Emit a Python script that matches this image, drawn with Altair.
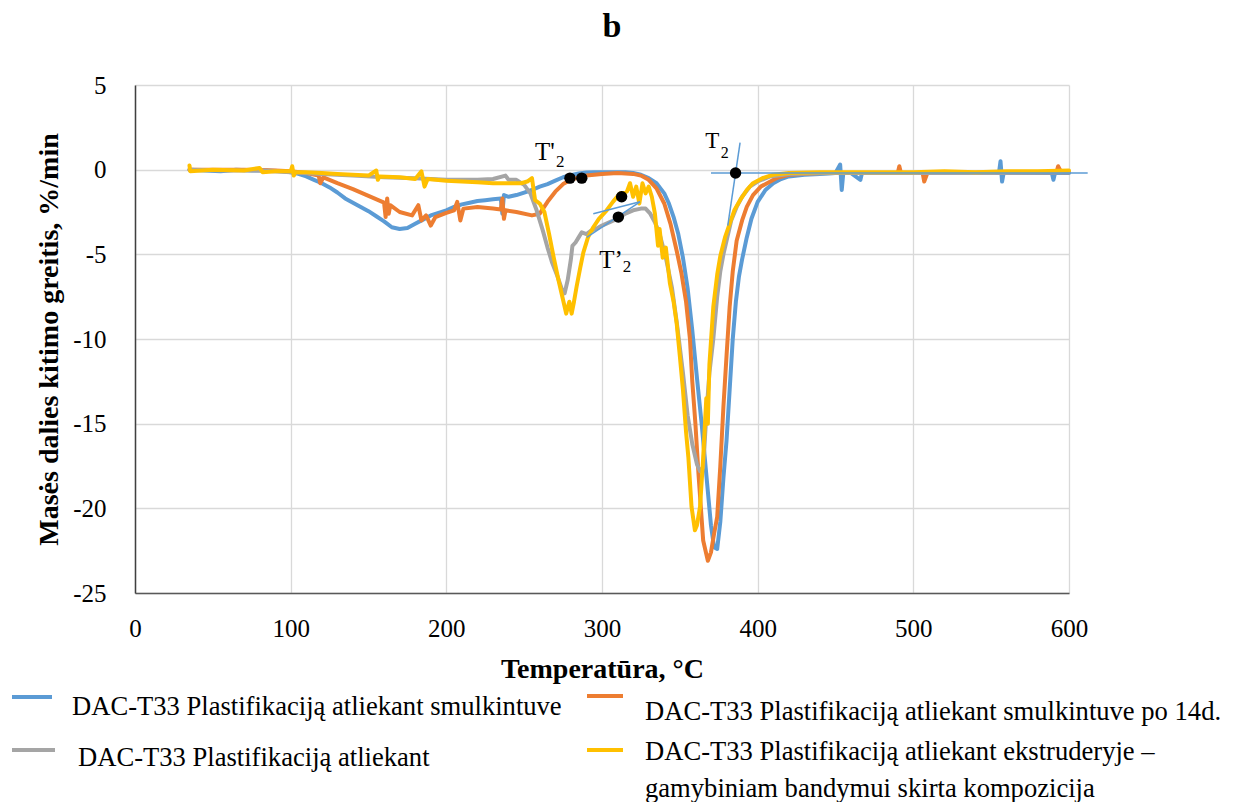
import altair as alt
import pandas as pd

# ---------------- data ----------------
SERIES = [
    "DAC-T33 Plastifikaciją atliekant smulkintuve",
    "DAC-T33 Plastifikaciją atliekant smulkintuve po 14d.",
    "DAC-T33 Plastifikaciją atliekant",
    "DAC-T33 Plastifikaciją atliekant ekstruderyje – gamybiniam bandymui skirta kompozicija",
]
COLORS = ["#5B9BD5", "#ED7D31", "#A5A5A5", "#FFC000"]

BLUE_T = [35, 45, 55, 65, 75, 85, 95, 100, 105, 110, 115, 120, 125, 130, 135, 140, 145, 150, 155, 160,
          165, 170, 175, 180, 185, 190, 195, 200, 205, 210, 215, 220, 225, 230, 235, 236, 237, 240, 245,
          250, 255, 260, 265, 270, 275, 280, 285, 290, 295, 300, 305, 310, 315, 320, 325, 330, 335, 340,
          343, 346, 349, 352, 355, 358, 361, 364, 367, 370, 372, 374, 376, 378, 380, 382, 384, 386, 388,
          390, 393, 396, 400, 405, 410, 415, 420, 430, 440, 450, 453, 454, 455, 460, 466, 467, 480, 500,
          520, 540, 555, 556, 557, 558, 570, 589, 590, 591, 600]
BLUE_V = [0.0, -0.05, -0.1, 0.0, -0.05, -0.05, -0.1, -0.15, -0.25, -0.4, -0.6, -0.8, -1.05, -1.35, -1.7,
          -1.95, -2.2, -2.45, -2.75, -3.05, -3.4, -3.5, -3.45, -3.2, -2.95, -2.7, -2.55, -2.4, -2.2, -2.05,
          -1.95, -1.85, -1.8, -1.75, -1.7, -2.6, -1.5, -1.6, -1.5, -1.35, -1.2, -1.0, -0.85, -0.65, -0.45,
          -0.32, -0.22, -0.17, -0.15, -0.15, -0.15, -0.15, -0.15, -0.2, -0.3, -0.5, -0.8, -1.4, -2.0, -2.8,
          -3.8, -5.2, -7.0, -9.5, -12.3, -15.0, -18.0, -21.0, -22.3, -22.4, -20.8, -18.2, -16.0, -13.0,
          -10.0, -7.8, -6.3, -5.3, -4.0, -2.9, -1.9, -1.2, -0.8, -0.55, -0.4, -0.3, -0.25, -0.2, 0.3, -1.2,
          -0.2, -0.2, -0.6, -0.2, -0.2, -0.2, -0.2, -0.2, -0.2, 0.5, -0.7, -0.2, -0.2, -0.2, -0.6, -0.2,
          -0.2]

ORANGE_T = [35, 50, 70, 90, 100, 110, 118, 119, 121, 130, 140, 150, 160, 161, 162, 163, 164, 170, 178,
            182, 184, 187, 190, 193, 200, 205, 207, 209, 211, 220, 230, 235, 236, 237, 238, 245, 255, 260,
            265, 270, 275, 280, 285, 290, 295, 300, 310, 320, 325, 330, 335, 340, 344, 348, 351, 354,
            356.5, 358, 360, 362, 365, 368, 370, 372, 374, 376, 378, 380, 382, 384, 386.5, 390, 393, 397,
            402, 412, 420, 440, 460, 480, 490, 491, 492, 506, 507, 509, 530, 560, 592, 593, 595, 600]
ORANGE_V = [0.0, 0.0, 0.0, -0.05, -0.1, -0.2, -0.35, -0.8, -0.45, -0.8, -1.15, -1.55, -1.95, -2.8, -1.7,
            -2.6, -2.1, -2.5, -2.7, -2.1, -3.0, -2.7, -3.3, -2.8, -2.55, -2.4, -1.9, -3.0, -2.3, -2.2,
            -2.3, -2.35, -1.7, -2.9, -2.4, -2.5, -2.7, -2.6, -1.9, -1.3, -0.85, -0.6, -0.45, -0.35, -0.3,
            -0.25, -0.2, -0.25, -0.35, -0.6, -1.1, -2.0, -3.2, -4.8, -6.1, -7.8, -10.0, -12.5, -15.0, -18.0,
            -21.9, -23.1, -22.6, -21.5, -20.5, -17.5, -14.0, -11.0, -8.1, -6.0, -4.2, -3.0, -2.2, -1.5,
            -1.0, -0.5, -0.3, -0.2, -0.2, -0.2, -0.2, 0.2, -0.2, -0.2, -0.7, -0.2, -0.2, -0.15, -0.15, 0.2,
            -0.15, -0.15]

GRAY_T = [35, 60, 80, 100, 120, 140, 160, 180, 190, 200, 220, 230, 238, 240, 245, 250, 254, 258, 262,
          265, 268, 271, 274, 276, 278, 280, 281, 283, 285, 287, 290, 293, 296, 300, 305, 310, 315, 320,
          325, 328, 331, 334, 337, 341, 345, 348, 352, 355, 358, 361, 363, 365, 367, 369, 371.5, 374, 376,
          378, 380, 383, 386.5, 390, 395, 400, 408, 420, 450, 500, 550, 600]
GRAY_V = [0.0, -0.05, -0.05, -0.15, -0.25, -0.35, -0.45, -0.5, -0.55, -0.6, -0.6, -0.55, -0.35, -0.6,
          -0.6, -0.9, -1.4, -2.4, -3.6, -4.6, -5.5, -6.2, -7.0, -7.3, -6.5, -5.3, -4.5, -4.3, -4.0, -3.7,
          -3.8, -3.6, -3.5, -3.3, -3.1, -2.9, -2.6, -2.4, -2.3, -2.3, -2.6, -3.1, -3.8, -5.2, -7.0, -9.0,
          -12.0, -14.5, -16.2, -17.4, -17.8, -17.6, -14.5, -12.0, -10.0, -7.5, -6.0, -5.0, -4.2, -3.0,
          -2.2, -1.6, -1.0, -0.7, -0.4, -0.25, -0.2, -0.2, -0.2, -0.15]

YELLOW_T = [35, 35.5, 50, 70, 80, 82, 90, 100, 101, 102, 103, 110, 120, 130, 140, 150, 155, 156, 157,
            170, 180, 184, 186, 188, 200, 210, 220, 230, 240, 248, 252, 255, 257, 260, 263, 266, 269, 272,
            275, 277, 279, 280.5, 282, 283.7, 286, 288, 291, 294.4, 298, 303, 307, 311.6, 316, 318, 320,
            322, 324, 326, 328, 330, 332, 334, 336, 337, 339, 341, 343.6, 346, 348, 350, 352, 354, 355.5,
            357.5, 359.7, 361, 363, 365, 367, 368, 369, 371.5, 374, 376, 379, 382, 385, 388.7, 393, 397,
            403, 410, 420, 440, 460, 480, 500, 520, 540, 560, 580, 600]
YELLOW_V = [0.25, -0.1, 0.0, -0.05, 0.1, -0.15, -0.1, -0.1, 0.2, -0.35, -0.15, -0.15, -0.2, -0.25, -0.3,
            -0.35, -0.05, -0.6, -0.4, -0.45, -0.55, -0.1, -1.0, -0.55, -0.65, -0.7, -0.75, -0.8, -0.8,
            -0.8, -0.7, -0.5, -1.8, -2.0, -2.5, -3.8, -5.2, -6.5, -7.7, -8.5, -7.8, -8.5, -7.8, -6.9, -5.8,
            -4.9, -4.0, -3.4, -2.9, -2.4, -1.9, -1.4, -1.3, -0.8, -1.6, -1.0, -2.0, -0.8, -1.4, -1.0, -1.6,
            -2.6, -4.5, -3.5, -5.2, -4.6, -6.7, -7.8, -9.1, -11.0, -13.0, -15.5, -17.0, -19.9, -21.3, -21.0,
            -19.9, -17.0, -13.5, -15.0, -11.5, -8.1, -6.2, -5.1, -4.0, -3.2, -2.4, -1.8, -1.2, -0.8, -0.5,
            -0.3, -0.2, -0.15, -0.15, -0.15, -0.15, -0.1, -0.15, -0.1, -0.1, -0.05]

# tangent construction lines and characteristic points
TAN_T1 = [370.0, 388.7, 294.4, 290.2]
TAN_V1 = [-0.2, 1.6, -2.6, -4.0]
TAN_T2 = [612.0, 380.8, 324.4, 324.4]
TAN_V2 = [-0.2, -3.3, -1.9, -1.9]

DOT_T = [279.4, 287.0, 312.6, 310.5, 385.8]
DOT_V = [-0.5, -0.5, -1.6, -2.8, -0.2]

LAB_TEXT = ["T'", "2", "T’", "2", "T", "2"]
LAB_T = [257.0, 270.4, 298.3, 313.3, 366.4, 376.3]
LAB_V = [0.57, 0.18, -5.82, -6.04, 1.26, 0.69]
LAB_SIZE = [25, 17, 25, 17, 23, 16]

X_TICKS = [0, 100, 200, 300, 400, 500, 600]
Y_TICKS = [-25, -20, -15, -10, -5, 0, 5]

FONT = "Liberation Serif"

# ---------------- encodings ----------------
x_axis = alt.Axis(values=X_TICKS, title="Temperatūra, °C", titleFont=FONT, titleFontSize=28,
                  titleFontWeight="bold", titleColor="black", titleX=467, titleY=84,
                  titleBaseline="alphabetic", titleAlign="center", labelFont=FONT, labelFontSize=25,
                  labelColor="black", labelPadding=23, ticks=False, tickSize=0, domainColor="#595959",
                  domainWidth=1.5, grid=True, gridColor="#D9D9D9", gridWidth=1.3, labelFlush=False,
                  labelOverlap=False, labelExpr="toString(datum.value)")
y_axis = alt.Axis(values=Y_TICKS, title="Masės dalies kitimo greitis, %/min", titleFont=FONT,
                  titleFontSize=28, titleFontWeight="bold", titleColor="black", titleX=-86, titleY=254,
                  titleAngle=270, titleBaseline="middle", titleAlign="center", labelFont=FONT,
                  labelFontSize=25, labelColor="black", labelPadding=29, ticks=False, tickSize=0,
                  domainColor="#404040", domainWidth=1.5, grid=True, gridColor="#D9D9D9", gridWidth=1.3,
                  labelFlush=False, labelOverlap=False, labelExpr="toString(datum.value)")

xs = alt.Scale(domain=[0, 600], nice=False, zero=False)
ys = alt.Scale(domain=[-25, 5], nice=False, zero=False)
X = alt.X("T:Q", scale=xs, axis=x_axis)
Y = alt.Y("V:Q", scale=ys, axis=y_axis)

layers = []
for ts, vs, col in [(BLUE_T, BLUE_V, COLORS[0]), (ORANGE_T, ORANGE_V, COLORS[1]),
                    (GRAY_T, GRAY_V, COLORS[2]), (YELLOW_T, YELLOW_V, COLORS[3])]:
    df = pd.DataFrame({"T": ts, "V": vs})
    layers.append(alt.Chart(df).mark_line(color=col, strokeWidth=4, strokeJoin="round",
                                          strokeCap="round").encode(x=X, y=Y))

tan_df = pd.DataFrame({"T": TAN_T1, "V": TAN_V1, "T2": TAN_T2, "V2": TAN_V2})
layers.append(alt.Chart(tan_df).mark_rule(color="#5B9BD5", strokeWidth=1.5).encode(
    x=X, y=Y, x2="T2:Q", y2="V2:Q"))

dot_df = pd.DataFrame({"T": DOT_T, "V": DOT_V})
layers.append(alt.Chart(dot_df).mark_circle(color="black", size=130, opacity=1).encode(x=X, y=Y))

lab_df = pd.DataFrame({"T": LAB_T, "V": LAB_V, "txt": LAB_TEXT, "fs": LAB_SIZE})
layers.append(alt.Chart(lab_df).mark_text(font=FONT, color="black", align="left",
                                          baseline="alphabetic").encode(
    x=X, y=Y, text="txt:N", size=alt.Size("fs:Q", scale=None, legend=None)))

# ---------------- title ----------------
one = pd.DataFrame({"a": [0]})
layers.append(alt.Chart(one).mark_text(text="b", font=FONT, fontSize=34, fontWeight="bold",
                                       color="black", align="center", baseline="alphabetic").encode(
    x=alt.value(477), y=alt.value(-48)))

# ---------------- custom legend (pixel layout relative to plot origin) ----------------
LEG = [
    # (color, x1, x2, yline, textx, texty, label)
    (COLORS[0], -123, -83, 612, -63, 630, "DAC-T33 Plastifikaciją atliekant smulkintuve"),
    (COLORS[1], 452, 488, 611, 510, 635, "DAC-T33 Plastifikaciją atliekant smulkintuve po 14d."),
    (COLORS[2], -123, -80, 665, -57, 681, "DAC-T33 Plastifikaciją atliekant"),
    (COLORS[3], 452, 488, 665, 510, 675, "DAC-T33 Plastifikaciją atliekant ekstruderyje –"),
]
for col, x1, x2, yl, tx, ty, lab in LEG:
    layers.append(alt.Chart(one).mark_rule(color=col, strokeWidth=4).encode(
        x=alt.value(x1), x2=alt.value(x2), y=alt.value(yl)))
    layers.append(alt.Chart(one).mark_text(text=lab, font=FONT, fontSize=26.6, color="black",
                                           align="left", baseline="alphabetic").encode(
        x=alt.value(tx), y=alt.value(ty)))
layers.append(alt.Chart(one).mark_text(text="gamybiniam bandymui skirta kompozicija", font=FONT,
                                       fontSize=26.6, color="black", align="left",
                                       baseline="alphabetic").encode(
    x=alt.value(510), y=alt.value(712)))

chart = alt.layer(*layers).properties(
    width=934, height=508,
    padding={"left": 127, "top": 77, "right": 157, "bottom": 209},
    autosize=alt.AutoSizeParams(type="none"),
).configure(background="white", font=FONT).configure_view(stroke=None).configure_axis(
    labelFont=FONT, titleFont=FONT)

chart.save("out.html", embed_options={"renderer": "svg", "actions": False})
